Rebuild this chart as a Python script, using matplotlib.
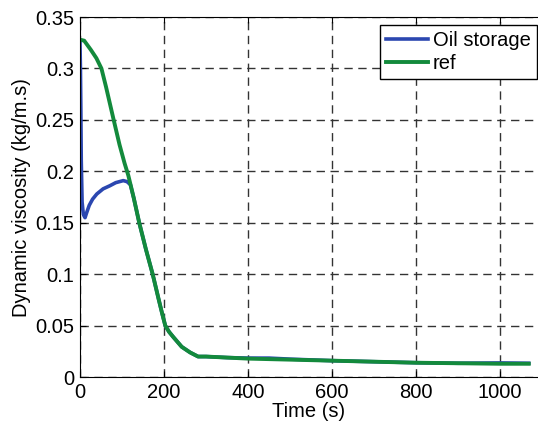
import matplotlib
matplotlib.use('Agg')
from matplotlib import pyplot as plt

# values
time_ref = [0, 10, 26, 39, 51, 62, 79, 94, 106, 115, 128, 141, 157, 173, 187, 196, 203,
            212, 222, 242, 262, 281, 300, 350, 400, 500, 600, 700, 800, 900, 1000, 1068]
visc_ref = [0.328, 0.327, 0.318, 0.310, 0.300, 0.282, 0.252, 0.226, 0.208, 0.196, 0.174,
            0.150, 0.124, 0.100, 0.076, 0.061, 0.050, 0.044, 0.039, 0.0295, 0.024, 0.020,
            0.020, 0.019, 0.018, 0.017, 0.016, 0.015, 0.014, 0.0135, 0.013, 0.013]

time_oil = [0, 1, 2, 3, 5, 8, 12, 16, 22, 30, 40, 55, 71, 85, 103, 112, 120, 128, 141,
            157, 173, 187, 196, 203, 212, 222, 242, 262, 281, 300, 350, 400, 450, 500,
            600, 700, 800, 900, 1000, 1068]
visc_oil = [0.325, 0.300, 0.260, 0.210, 0.170, 0.158, 0.155, 0.160, 0.167, 0.173, 0.178,
            0.183, 0.186, 0.189, 0.191, 0.190, 0.187, 0.174, 0.150, 0.124, 0.100, 0.076,
            0.061, 0.050, 0.044, 0.039, 0.0295, 0.024, 0.020, 0.020, 0.019, 0.0185,
            0.0185, 0.0175, 0.016, 0.015, 0.014, 0.0135, 0.0138, 0.0135]

x_ticks = [0, 200, 400, 600, 800, 1000]
y_ticks = [0, 0.05, 0.1, 0.15, 0.2, 0.25, 0.3, 0.35]
y_tick_labels = ['0', '0.05', '0.1', '0.15', '0.2', '0.25', '0.3', '0.35']

plt.rcParams['font.family'] = ['Liberation Sans', 'DejaVu Sans']

fig = plt.figure(figsize=(5.38, 4.32), dpi=100)
ax = fig.add_axes([0.1487, 0.127, 0.8513, 0.8336])

ax.plot(time_oil, visc_oil, color='#2b47b0', lw=2.6, label='Oil storage')
ax.plot(time_ref, visc_ref, color='#138a3c', lw=2.8, label='ref')

ax.set_xlim(0, 1090)
ax.set_ylim(0, 0.35)
ax.set_xticks(x_ticks)
ax.set_yticks(y_ticks)
ax.set_yticklabels(y_tick_labels)
ax.tick_params(direction='in', labelsize=14.5, length=4, top=True, pad=4)
ax.grid(True, color='#333333', linestyle=(0, (6, 4)), lw=1)
ax.spines['right'].set_visible(False)

ax.set_xlabel('Time (s)', fontsize=14.5, labelpad=0)
ax.set_ylabel('Dynamic viscosity (kg/m.s)', fontsize=14.5, labelpad=3)

leg = ax.legend(loc='upper right', bbox_to_anchor=(537 / 538, 1 - 25 / 432),
                bbox_transform=fig.transFigure, borderaxespad=0,
                fontsize=14.5, handlelength=2.1, handletextpad=0.25,
                fancybox=False, framealpha=1, borderpad=0.3, labelspacing=0.2)
leg.get_frame().set_edgecolor('black')
leg.get_frame().set_linewidth(1)

fig.savefig('out.png', dpi=100)
